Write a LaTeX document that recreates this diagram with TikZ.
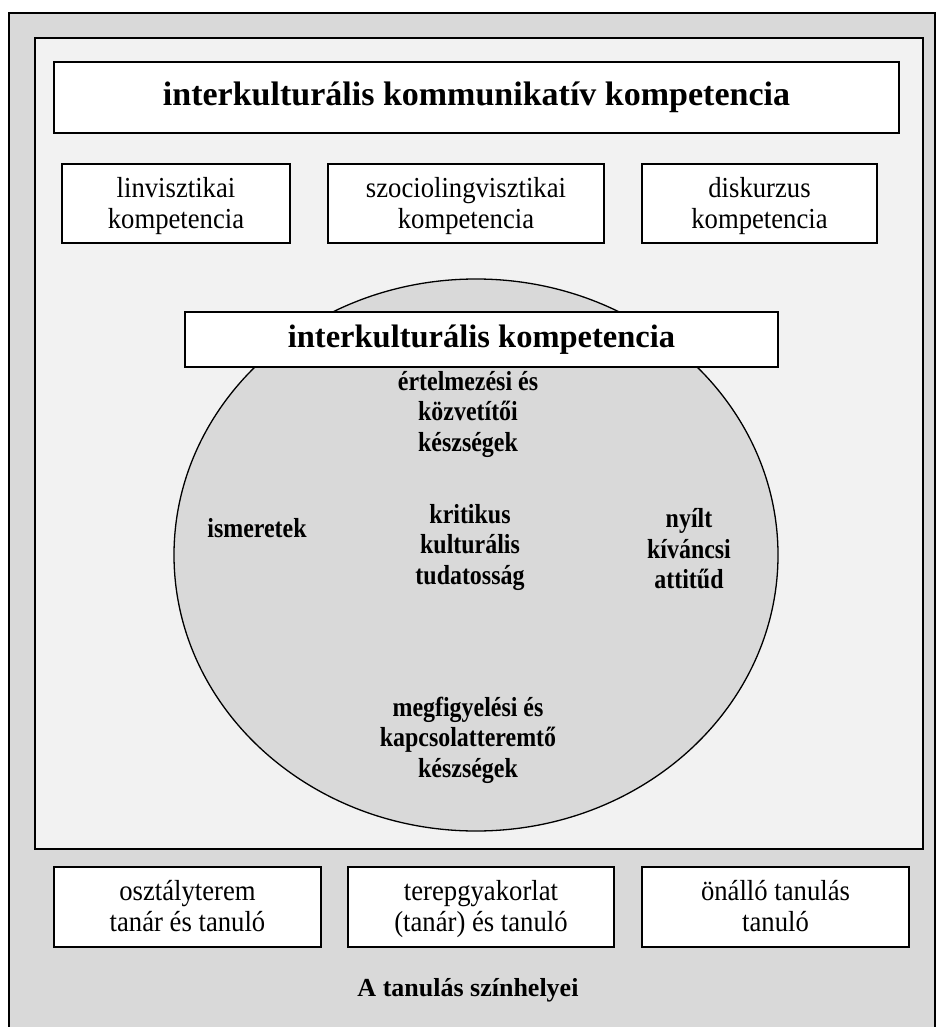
\documentclass[tikz,border=0pt]{standalone}
\usepackage{fontspec}
\setmainfont{Liberation Serif}
\newfontfamily\plainface[FakeStretch=0.92]{Liberation Serif}
\newfontfamily\condface[FakeStretch=0.87]{Liberation Serif}
\usetikzlibrary{shapes.geometric}

\definecolor{outergray}{HTML}{D9D9D9}
\definecolor{innergray}{HTML}{F2F2F2}
\definecolor{ringgray}{HTML}{D9D9D9}

% invisible rule giving every box line the same height and depth
\newcommand\boxstrut{\vrule height 24.5pt depth 6.5pt width 0pt}

\tikzset{
  panel/.style={draw=black,line width=1.6pt},
  box/.style={draw=black,fill=white,line width=1.5pt,inner sep=0pt,align=center},
  plaintext/.style={font=\plainface\fontsize{29}{31}\selectfont},
  titletext/.style={font=\bfseries\fontsize{34}{38}\selectfont},
  bannertext/.style={font=\bfseries\fontsize{32.5}{36}\selectfont},
  ringtext/.style={inner sep=0pt,align=center,font=\condface\bfseries\fontsize{27.5}{30.5}\selectfont},
  captiontext/.style={inner sep=0pt,font=\bfseries\fontsize{26}{30}\selectfont},
}

\begin{document}
\begin{tikzpicture}[x=1pt,y=-1pt]
\useasboundingbox (0,0) rectangle (936,1027);

% outer frame: learning settings (open at the bottom)
\fill[outergray] (9,13) rectangle (935,1040);
\draw[panel] (9,1040) -- (9,13) -- (935,13) -- (935,1040);

% inner frame: communicative competence
\node[panel,fill=innergray,minimum width=888pt,minimum height=811pt,inner sep=0pt] (inner) at (479,443.5) {};

\node[box,titletext,minimum width=845pt,minimum height=71pt] (ikk) at (476.5,97.5)
  {interkulturális kommunikatív kompetencia};

\node[box,plaintext,minimum width=228pt,minimum height=79pt] (ling) at (176,203.5)
  {linvisztikai\boxstrut\\kompetencia\boxstrut};
\node[box,plaintext,minimum width=276pt,minimum height=79pt] (socio) at (466,203.5)
  {szociolingvisztikai\boxstrut\\kompetencia\boxstrut};
\node[box,plaintext,minimum width=235pt,minimum height=79pt] (disc) at (759.5,203.5)
  {diskurzus\boxstrut\\kompetencia\boxstrut};

% intercultural competence
\node[ellipse,draw=black,fill=ringgray,line width=1.3pt,minimum width=604pt,minimum height=552pt,inner sep=0pt] (ring) at (476,555) {};

\node[box,bannertext,minimum width=593pt,minimum height=55pt] (ik) at (481.5,339.5)
  {interkulturális kompetencia};

\node[ringtext] (interp) at (468,414) {értelmezési és\\közvetítői\\készségek};
\node[ringtext] (know) at (257,528) {ismeretek};
\node[ringtext] (crit) at (470,547) {kritikus\\kulturális\\tudatosság};
\node[ringtext] (att) at (689,549) {nyílt\\kíváncsi\\attitűd};
\node[ringtext] (obs) at (468,740) {megfigyelési és\\kapcsolatteremtő\\készségek};

% learning settings
\node[box,plaintext,minimum width=267pt,minimum height=80pt] (class) at (187.5,907)
  {osztályterem\boxstrut\\tanár és tanuló\boxstrut};
\node[box,plaintext,minimum width=266pt,minimum height=80pt] (field) at (481,907)
  {terepgyakorlat\boxstrut\\(tanár) és tanuló\boxstrut};
\node[box,plaintext,minimum width=267pt,minimum height=80pt] (self) at (775.5,907)
  {önálló tanulás\boxstrut\\tanuló\boxstrut};

\node[captiontext] (places) at (468,990) {A tanulás színhelyei};
\end{tikzpicture}
\end{document}
